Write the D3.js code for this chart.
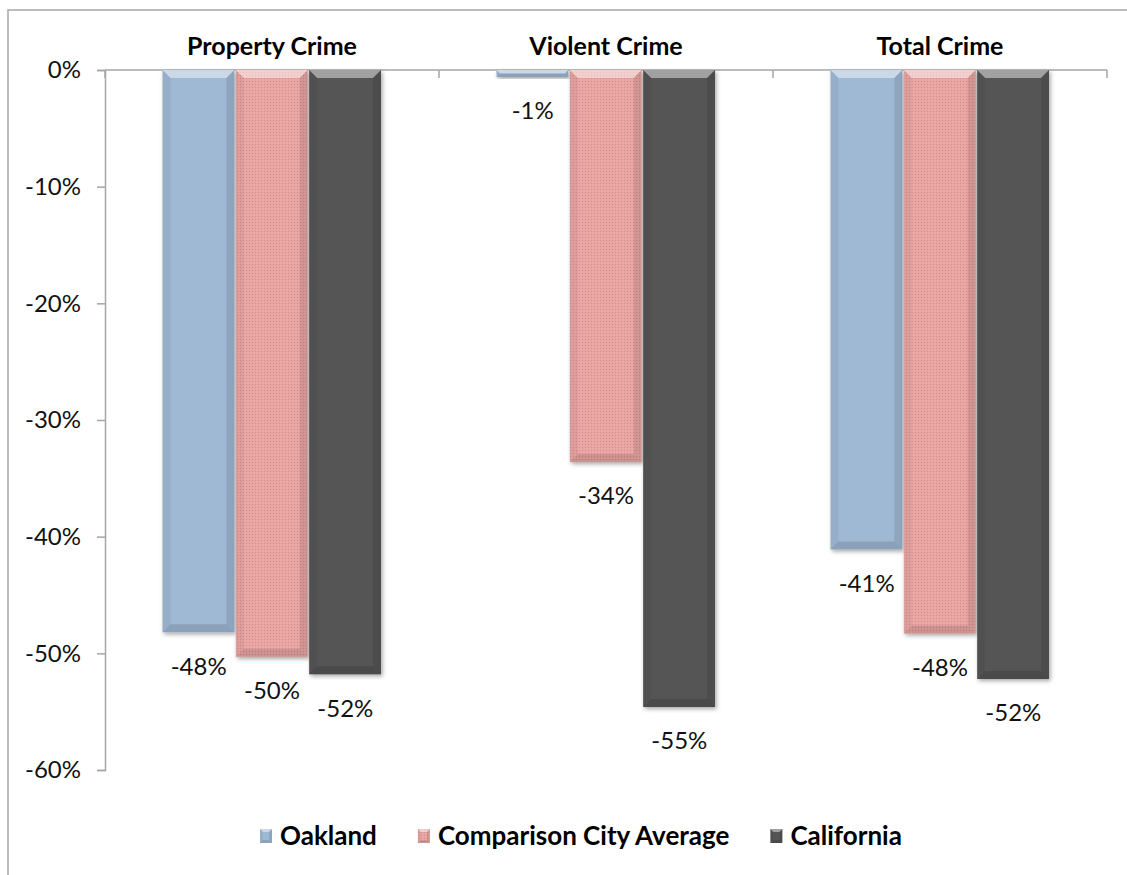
<!DOCTYPE html>
<html>
<head>
<meta charset="utf-8">
<script src="https://cdn.jsdelivr.net/npm/d3@7/dist/d3.min.js"></script>
<style>
html,body{margin:0;padding:0;background:#fff;}
svg{display:block;font-family:Lato,"Open Sans",sans-serif;}
</style>
</head>
<body>
<svg id="chart" width="1127" height="875"></svg>
<script>
const categories = ["Property Crime", "Violent Crime", "Total Crime"];
const seriesNames = ["Oakland", "Comparison City Average", "California"];
const oakland = [-0.482, -0.006, -0.411];
const comparison = [-0.503, -0.336, -0.483];
const california = [-0.518, -0.546, -0.522];
const valueLabels = [["-48%", "-1%", "-41%"], ["-50%", "-34%", "-48%"], ["-52%", "-55%", "-52%"]];
const yTicks = [0, -0.1, -0.2, -0.3, -0.4, -0.5, -0.6];
const yTickLabels = ["0%", "-10%", "-20%", "-30%", "-40%", "-50%", "-60%"];
const seriesValues = [oakland, comparison, california];
const colors = ["#9fb8d4", "#e8a4a1", "#555555"];

const svg = d3.select("#chart");
const defs = svg.append("defs");

// drop shadow
const f = defs.append("filter").attr("id", "shadow").attr("x", "-20%").attr("y", "-20%").attr("width", "140%").attr("height", "140%");
f.append("feDropShadow").attr("dx", 1.5).attr("dy", 2).attr("stdDeviation", 2).attr("flood-color", "#000").attr("flood-opacity", 0.35);

// dotted texture for comparison series
const pat = defs.append("pattern").attr("id", "dots").attr("width", 3).attr("height", 3).attr("patternUnits", "userSpaceOnUse");
pat.append("rect").attr("width", 3).attr("height", 3).attr("fill", colors[1]);
pat.append("rect").attr("x", 0).attr("y", 0).attr("width", 1).attr("height", 1).attr("fill", "#d48d8a");
pat.append("rect").attr("x", 1.5).attr("y", 1.5).attr("width", 1).attr("height", 1).attr("fill", "#f0b8b5");

const fills = [colors[0], "url(#dots)", colors[2]];

// outer frame (partially outside viewport as in reference)
svg.append("rect").attr("x", 8).attr("y", 10).attr("width", 1400).attr("height", 1200)
  .attr("fill", "none").attr("stroke", "#a6a6a6").attr("stroke-width", 1.5);

const plotLeft = 105, plotRight = 1107, plotTop = 70, plotBottom = 770;

const x0 = d3.scaleBand().domain(categories).range([plotLeft, plotRight]).paddingInner(0).paddingOuter(0);
const groupFrac = 220 / 334;
const x1 = d3.scaleBand().domain(seriesNames)
  .range([x0.bandwidth() * (1 - groupFrac) / 2, x0.bandwidth() * (1 + groupFrac) / 2]).padding(0);
const y = d3.scaleLinear().domain([-0.6, 0]).range([plotBottom, plotTop]);

// y axis
const yAxis = d3.axisLeft(y).tickValues(yTicks).tickFormat((d, i) => yTickLabels[i]).tickSize(8).tickPadding(16);
const gy = svg.append("g").attr("transform", `translate(${plotLeft},0)`).call(yAxis);
gy.select(".domain").attr("stroke", "#a6a6a6").attr("stroke-width", 1.5);
gy.selectAll(".tick line").attr("stroke", "#a6a6a6").attr("stroke-width", 1.5);
gy.selectAll(".tick text").attr("font-size", 24).attr("fill", "#111").attr("font-family", "Lato");

// top category axis at y=0 with boundary ticks
const gx = svg.append("g").attr("transform", `translate(0,${y(0)})`);
gx.append("line").attr("x1", plotLeft).attr("x2", plotRight).attr("y1", 0).attr("y2", 0)
  .attr("stroke", "#a6a6a6").attr("stroke-width", 1.5);
const bounds = categories.map(c => x0(c)).concat([x0(categories[categories.length - 1]) + x0.bandwidth()]);
gx.selectAll("line.cb").data(bounds).join("line").attr("class", "cb")
  .attr("x1", d => d).attr("x2", d => d).attr("y1", 0).attr("y2", 8)
  .attr("stroke", "#a6a6a6").attr("stroke-width", 1.5);

// category titles
svg.selectAll("text.cat").data(categories).join("text").attr("class", "cat")
  .attr("x", d => x0(d) + x0.bandwidth() / 2).attr("y", 55)
  .attr("text-anchor", "middle").attr("font-size", 25).attr("font-weight", "bold").attr("fill", "#000")
  .text(d => d);

// bars
const barData = [];
seriesNames.forEach((s, si) => {
  categories.forEach((c, ci) => {
    barData.push({ s, si, c, ci, v: seriesValues[si][ci], label: valueLabels[si][ci] });
  });
});

function bevel(g, x, yTop, w, h, b0) {
  const b = Math.min(b0, h / 2, w / 2);
  const pts = (arr) => arr.map(p => p.join(",")).join(" ");
  g.append("polygon").attr("points", pts([[x, yTop], [x + w, yTop], [x + w - b, yTop + b], [x + b, yTop + b]]))
    .attr("fill", "#fff").attr("opacity", 0.45);
  g.append("polygon").attr("points", pts([[x, yTop + h], [x + w, yTop + h], [x + w - b, yTop + h - b], [x + b, yTop + h - b]]))
    .attr("fill", "#000").attr("opacity", 0.12);
  g.append("polygon").attr("points", pts([[x, yTop], [x + b, yTop + b], [x + b, yTop + h - b], [x, yTop + h]]))
    .attr("fill", "#000").attr("opacity", 0.05);
  g.append("polygon").attr("points", pts([[x + w, yTop], [x + w - b, yTop + b], [x + w - b, yTop + h - b], [x + w, yTop + h]]))
    .attr("fill", "#000").attr("opacity", 0.1);
}

const bars = svg.append("g");
barData.forEach(d => {
  const bx = x0(d.c) + x1(d.s) + 0.5;
  const bw = x1.bandwidth() - 1.5;
  const yTop = y(0);
  const h = y(d.v) - y(0);
  const g = bars.append("g");
  g.append("rect").attr("x", bx).attr("y", yTop).attr("width", bw).attr("height", h)
    .attr("fill", fills[d.si]).attr("filter", "url(#shadow)");
  bevel(g, bx, yTop, bw, h, 8);
});

// value labels
svg.selectAll("text.val").data(barData).join("text").attr("class", "val")
  .attr("x", d => x0(d.c) + x1(d.s) + x1.bandwidth() / 2)
  .attr("y", d => y(d.v) + 34)
  .attr("dy", "0.35em")
  .attr("text-anchor", "middle").attr("font-size", 24).attr("fill", "#111")
  .text(d => d.label);

// legend (laid out sequentially)
const lg = svg.append("g").attr("transform", "translate(260,829)");
let cursor = 0;
seriesNames.forEach((s, i) => {
  const g = lg.append("g").attr("transform", `translate(${cursor},0)`);
  g.append("rect").attr("x", 0).attr("y", 0).attr("width", 12).attr("height", 14).attr("fill", fills[i]);
  bevel(g, 0, 0, 12, 14, 3);
  const t = g.append("text").attr("x", 20).attr("y", 7).attr("dy", "0.35em")
    .attr("font-size", 26).attr("font-weight", "bold").attr("fill", "#000").text(s);
  cursor += 20 + t.node().getComputedTextLength() + 41;
});
</script>
</body>
</html>
